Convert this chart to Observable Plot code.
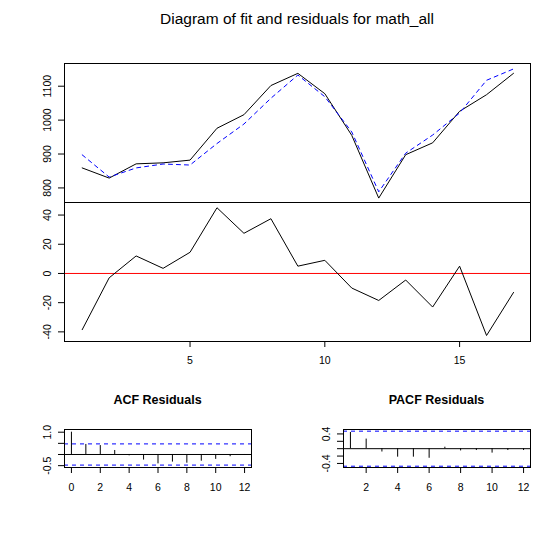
<!DOCTYPE html>
<html><head><meta charset="utf-8">
<script src="https://cdn.jsdelivr.net/npm/d3@7"></script>
<script src="https://cdn.jsdelivr.net/npm/@observablehq/plot@0.6"></script>
<style>
html,body{margin:0;padding:0;background:#fff;}
#wrap{position:relative;width:557px;height:556px;font-family:"Liberation Sans",Arial,sans-serif;overflow:hidden;}
.ttl{position:absolute;text-align:center;white-space:nowrap;line-height:1;color:#000;}
</style></head>
<body><div id="wrap"></div>
<script>
// ---- data ----
const timeIndex = [1,2,3,4,5,6,7,8,9,10,11,12,13,14,15,16,17];
const actual = [859, 829, 871, 874, 882, 976, 1016, 1102, 1138, 1078, 955, 770, 898, 933, 1026, 1075, 1138];
const fitted = [897.5, 832, 859, 870.5, 867.5, 931, 988.5, 1064.5, 1133, 1069, 965, 788.5, 902.5, 956, 1021, 1117.5, 1151];
const residuals = [-38.5, -3, 12, 3.5, 14.5, 45, 27.5, 37.5, 5, 9, -10, -18.5, -4.5, -23, 5, -42.5, -13];
const acfLags = [0,1,2,3,4,5,6,7,8,9,10,11,12];
const acfValues = [1.0, 0.45, 0.40, 0.18, -0.06, -0.25, -0.42, -0.34, -0.39, -0.30, -0.22, -0.10, -0.01];
const pacfLags = [1,2,3,4,5,6,7,8,9,10,11,12];
const pacfValues = [0.44, 0.26, -0.09, -0.23, -0.23, -0.26, 0.04, -0.06, -0.05, -0.12, -0.05, -0.05];
const ciBounds = [-0.475, 0.475];
const fitYTicks = [800, 900, 1000, 1100];
const resYTicks = [-40, -20, 0, 20, 40];
const mainXTicks = [5, 10, 15];
const acfXTicks = [0, 2, 4, 6, 8, 10, 12];
const acfYTicks = [-0.5, 0, 0.5, 1.0];
const acfYLabels = {"-0.5": "-0.5", "1": "1.0"};
const pacfXTicks = [2, 4, 6, 8, 10, 12];
const pacfYTicks = [-0.4, -0.2, 0, 0.2, 0.4];
const pacfYLabels = {"-0.4": "-0.4", "0.4": "0.4"};
const mainTitle = "Diagram of fit and residuals for math_all";
const acfTitle = "ACF Residuals";
const pacfTitle = "PACF Residuals";

// ---- layout ----
const W = 557, H = 556;
const FONT = '"Liberation Sans", Arial, sans-serif';
const wrap = document.getElementById("wrap");
const baseStyle = {position: "absolute", left: "0px", top: "0px", background: "transparent", overflow: "visible", fontFamily: FONT, color: "black"};

const fitData = timeIndex.map((t, i) => ({t, actual: actual[i], fitted: fitted[i], res: residuals[i]}));
const acfData = acfLags.map((lag, i) => ({lag, v: acfValues[i]}));
const pacfData = pacfLags.map((lag, i) => ({lag, v: pacfValues[i]}));

function add(p) { wrap.appendChild(p); }
const yAx = (ticks, fmt) => Plot.axisY(ticks, {anchor: "left", label: null, tickSize: 6, tickRotate: -90, tickPadding: 8, fontSize: 10.5, tickFormat: fmt});
const xAx = (ticks, pad) => Plot.axisX(ticks, {anchor: "bottom", label: null, tickSize: 6, tickPadding: pad, fontSize: 10.5, tickFormat: d => String(d)});

// top panel: fit
add(Plot.plot({
  width: W, height: H,
  marginTop: 63, marginBottom: H - 202, marginLeft: 64, marginRight: W - 530,
  style: baseStyle,
  x: {domain: [0.343, 17.63], axis: null},
  y: {domain: [757, 1167], axis: null},
  marks: [
    yAx(fitYTicks, d => String(d)),
    Plot.line(fitData, {x: "t", y: "actual", stroke: "black", strokeWidth: 1}),
    Plot.line(fitData, {x: "t", y: "fitted", stroke: "blue", strokeWidth: 1, strokeDasharray: "4,4"}),
    Plot.frame({stroke: "black"})
  ]
}));

// residual panel
add(Plot.plot({
  width: W, height: H,
  marginTop: 202, marginBottom: H - 341, marginLeft: 64, marginRight: W - 530,
  style: baseStyle,
  x: {domain: [0.343, 17.63], axis: null},
  y: {domain: [-46.6, 48.6], axis: null},
  marks: [
    yAx(resYTicks, d => String(d)),
    xAx(mainXTicks, 9),
    Plot.ruleY([0], {stroke: "red", strokeWidth: 1}),
    Plot.line(fitData, {x: "t", y: "res", stroke: "black", strokeWidth: 1}),
    Plot.frame({stroke: "black"})
  ]
}));

// ACF panel
add(Plot.plot({
  width: W, height: H,
  marginTop: 429, marginBottom: H - 467, marginLeft: 64, marginRight: W - 251,
  style: baseStyle,
  x: {domain: [-0.48, 12.48], axis: null},
  y: {domain: [-0.583, 1.121], axis: null},
  marks: [
    yAx(acfYTicks, d => acfYLabels[String(d)] || ""),
    xAx(acfXTicks, 10),
    Plot.ruleY([0], {stroke: "black"}),
    Plot.ruleY(ciBounds, {stroke: "blue", strokeDasharray: "4,4"}),
    Plot.ruleX(acfData, {x: "lag", y1: 0, y2: "v", stroke: "black"}),
    Plot.frame({stroke: "black"})
  ]
}));

// PACF panel
add(Plot.plot({
  width: W, height: H,
  marginTop: 429, marginBottom: H - 467, marginLeft: 343, marginRight: W - 530,
  style: baseStyle,
  x: {domain: [0.56, 12.44], axis: null},
  y: {domain: [-0.51, 0.52], axis: null},
  marks: [
    yAx(pacfYTicks, d => pacfYLabels[String(d)] || ""),
    xAx(pacfXTicks, 10),
    Plot.ruleY([0], {stroke: "black"}),
    Plot.ruleY(ciBounds, {stroke: "blue", strokeDasharray: "4,4"}),
    Plot.ruleX(pacfData, {x: "lag", y1: 0, y2: "v", stroke: "black"}),
    Plot.frame({stroke: "black"})
  ]
}));

// titles
function title(text, cx, baseline, size, weight) {
  const d = document.createElement("div");
  d.className = "ttl";
  d.textContent = text;
  d.style.fontSize = size + "px";
  d.style.fontWeight = weight;
  d.style.width = "400px";
  d.style.left = (cx - 200) + "px";
  d.style.top = (baseline - 0.8465 * size) + "px";
  wrap.appendChild(d);
}
title(mainTitle, 297, 24, 15.5, "normal");
title(acfTitle, 157.5, 404.5, 12.5, "bold");
title(pacfTitle, 436.5, 404.5, 12.5, "bold");
</script>
</body></html>
